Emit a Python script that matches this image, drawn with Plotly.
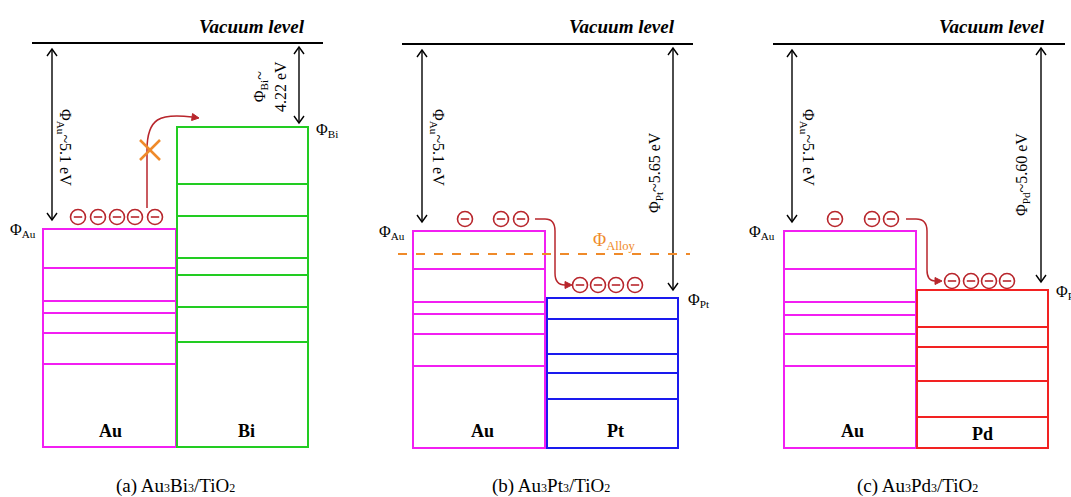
import plotly.graph_objects as go

# ---------------- data (diagram levels, in px of the drawing) -------------
metals = ["Bi", "Pt", "Pd"]
SS = '<span style="font-size:12px">{}</span>'
captions = ["(a) Au" + SS.format("3") + "Bi" + SS.format("3") + "/TiO" + SS.format("2"),
            "(b) Au" + SS.format("3") + "Pt" + SS.format("3") + "/TiO" + SS.format("2"),
            "(c) Au" + SS.format("3") + "Pd" + SS.format("3") + "/TiO" + SS.format("2")]
vacuum_level = [43, 44, 44]
au_fermi = [229, 231, 231]
au_bands = [[268, 301, 313, 333, 364],
            [269, 302, 314, 334, 366],
            [269, 302, 315, 334, 366]]
metal_fermi = [127, 298, 290]
metal_bands = [[184, 216, 258, 275, 307, 342],
               [319, 354, 373, 399],
               [327, 347, 381, 417]]
box_bottom = [447, 448, 448]
au_wf_label = "Φ<sub>Au</sub>~5.1 eV"
metal_wf_labels = ["Φ<sub>Bi</sub>~<br>4.22 eV", "Φ<sub>Pt</sub>~5.65 eV", "Φ<sub>Pd</sub>~5.60 eV"]
au_electrons_x = [[78, 98, 117, 135, 155], [465, 501, 521], [835, 872, 891]]
metal_electrons_x = [[], [580, 598, 616, 635], [952, 971, 989, 1007]]
alloy_level = 254

# ---------------- layout geometry ----------------
vac_x = [(32, 323), (402, 693), (773, 1065)]
vac_text_x = [252, 622, 992]
au_box_x = [(43, 176), (413, 545), (784, 916)]
m_box_x = [(177, 308), (547, 678), (917, 1048)]
au_arrow_x = [52, 422, 792]
m_arrow_x = [299, 673, 1041]
au_lab_x = [65, 438, 808]
m_lab_xy = [(270, 87), (655, 173), (1022, 175)]
phi_au_x = [23, 392, 762]
phi_m_xy = [(327, 130), (699, 300), (1054, 292)]
au_name_x = [110, 482, 852]
m_name_x = [246, 615, 982]
cap_x = [175, 551, 917]
e_au_y = [217, 219, 219]
e_m_y = [None, 285, 281]

MAG = "#f21ff2"
MCOL = ["#22cc22", "#1a1aee", "#f22222"]
ERED = "#b8262c"
ORANGE = "#ef8a2a"
FONT = "Liberation Serif"

fig = go.Figure()
shapes = []
ann = []


def line(x0, y0, x1, y1, color="black", width=2, dash=None):
    d = dict(type="line", x0=x0, y0=y0, x1=x1, y1=y1, xref="x", yref="y",
             line=dict(color=color, width=width))
    if dash:
        d["line"]["dash"] = dash
    shapes.append(d)


def vhead(tx, ty, dx, dy, color="black", L=7, W=5, width=1.4, filled=False):
    nx, ny = -dy, dx
    p1 = (tx - L * dx + W * nx, ty - L * dy + W * ny)
    p2 = (tx - L * dx - W * nx, ty - L * dy - W * ny)
    path = f"M{p1[0]},{p1[1]} L{tx},{ty} L{p2[0]},{p2[1]}"
    d = dict(type="path", path=path + (" Z" if filled else ""), xref="x", yref="y",
             line=dict(color=color, width=width))
    if filled:
        d["fillcolor"] = color
    shapes.append(d)


def darrow(x, y0, y1):
    line(x, y0, x, y1, width=1.4)
    vhead(x, y0, 0, -1)
    vhead(x, y1, 0, 1)


def text(x, y, t, size=16, color="black", angle=0, xanchor="center", bold=False, italic=False):
    if bold:
        t = f"<b>{t}</b>"
    if italic:
        t = f"<i>{t}</i>"
    ann.append(dict(x=x, y=y, xref="x", yref="y", text=t, showarrow=False,
                    textangle=angle, xanchor=xanchor, yanchor="middle",
                    font=dict(family=FONT, size=size, color=color)))


for i in range(3):
    # vacuum level
    line(vac_x[i][0], vacuum_level[i], vac_x[i][1], vacuum_level[i], width=2)
    text(vac_text_x[i], 26, "Vacuum level", size=19, bold=True, italic=True)
    # Au box
    ax0, ax1 = au_box_x[i]
    shapes.append(dict(type="rect", x0=ax0, x1=ax1, y0=au_fermi[i], y1=box_bottom[i],
                       xref="x", yref="y", line=dict(color=MAG, width=2)))
    for yb in au_bands[i]:
        line(ax0, yb, ax1, yb, color=MAG, width=2)
    # second metal box
    mx0, mx1 = m_box_x[i]
    shapes.append(dict(type="rect", x0=mx0, x1=mx1, y0=metal_fermi[i], y1=box_bottom[i],
                       xref="x", yref="y", line=dict(color=MCOL[i], width=2)))
    for yb in metal_bands[i]:
        line(mx0, yb, mx1, yb, color=MCOL[i], width=2)
    # work function arrows
    darrow(au_arrow_x[i], vacuum_level[i] + 6, au_fermi[i] - 9)
    darrow(m_arrow_x[i], vacuum_level[i] + 4, metal_fermi[i] - (4 if i == 0 else 8))
    text(au_lab_x[i], 147, au_wf_label, size=16, angle=90)
    text(m_lab_xy[i][0], m_lab_xy[i][1], metal_wf_labels[i], size=16, angle=-90)
    text(phi_au_x[i], au_fermi[i] + 1, "Φ<sub>Au</sub>", size=16)
    text(phi_m_xy[i][0], phi_m_xy[i][1], f"Φ<sub>{metals[i]}</sub>", size=16,
         xanchor="left" if i == 2 else "center")
    text(au_name_x[i], 431, "Au", size=18, bold=True)
    text(m_name_x[i], 431 if i < 2 else 434, metals[i], size=18, bold=True)
    text(cap_x[i], 486, captions[i], size=19)

    # electrons
    ex = list(au_electrons_x[i]) + list(metal_electrons_x[i])
    ey = [e_au_y[i]] * len(au_electrons_x[i]) + [e_m_y[i]] * len(metal_electrons_x[i])
    fig.add_trace(go.Scatter(x=ex, y=ey, mode="markers", hoverinfo="skip",
                             marker=dict(symbol="circle-open", size=15, color=ERED,
                                         line=dict(width=1.6, color=ERED))))
    fig.add_trace(go.Scatter(x=ex, y=ey, mode="markers", hoverinfo="skip",
                             marker=dict(symbol="line-ew", size=6, color=ERED,
                                         line=dict(width=1.6, color=ERED))))

# panel (a): blocked transfer arrow with X
shapes.append(dict(type="path", path="M147,208 L147,150 C147,118 160,113 192,117",
                   xref="x", yref="y", line=dict(color=ERED, width=1.5)))
vhead(199, 118, 0.99, 0.14, color=ERED, L=7, W=3.5, width=1, filled=True)
line(140, 140, 160, 160, color=ORANGE, width=2.5)
line(140, 160, 160, 140, color=ORANGE, width=2.5)

# panel (b): transfer arrow and alloy level
shapes.append(dict(type="path", path="M535,219 L545,219 Q555,219 555,231 L555,273 Q555,285 565,285",
                   xref="x", yref="y", line=dict(color=ERED, width=1.5)))
vhead(572, 285, 1, 0, color=ERED, L=7, W=3.5, width=1, filled=True)
line(398, alloy_level, 690, alloy_level, color=ORANGE, width=2, dash="dash")
text(614, alloy_level - 13, "Φ<sub>Alloy</sub>", size=18, color=ORANGE)

# panel (c): transfer arrow
shapes.append(dict(type="path", path="M906,219 L916,219 Q927,219 927,231 L927,270 Q927,281 935,281",
                   xref="x", yref="y", line=dict(color=ERED, width=1.5)))
vhead(942, 281, 1, 0, color=ERED, L=7, W=3.5, width=1, filled=True)

fig.update_layout(
    width=1071, height=497, margin=dict(l=0, r=0, t=0, b=0),
    paper_bgcolor="white", plot_bgcolor="white", showlegend=False,
    xaxis=dict(range=[0, 1071], visible=False, fixedrange=True),
    yaxis=dict(range=[497, 0], visible=False, fixedrange=True),
    shapes=shapes, annotations=ann,
)
fig.write_html("out.html")
